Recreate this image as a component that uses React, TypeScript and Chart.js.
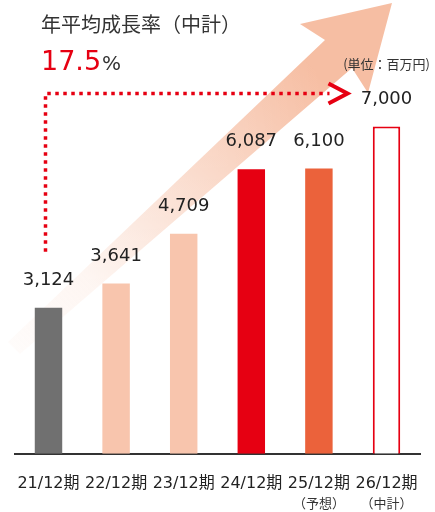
import React, { useEffect, useRef } from 'react';
import { Chart, registerables } from 'chart.js';

Chart.register(...registerables);

const categories = ['21/12期', '22/12期', '23/12期', '24/12期', '25/12期', '26/12期'];
const subLabels = ['', '', '', '', '（予想）', '（中計）'];
const values = [3124, 3641, 4709, 6087, 6100, 7000];
const barColors = ['#707070', '#F8C5AD', '#F8C5AD', '#E60012', '#EB623B', '#FFFFFF'];
const barBorderColors = ['#707070', '#F8C5AD', '#F8C5AD', '#E60012', '#EB623B', '#E60012'];
const barBorderWidths = [0, 0, 0, 0, 0, 2];
const titleText = '年平均成長率（中計）';
const cagrValue = '17.5';
const cagrUnit = '%';
const unitText = '(単位：百万円)';
const yMax = 9000;

const LATIN = "'DejaVu Sans', 'Noto Sans CJK JP', sans-serif";
const CJK = "'Noto Sans CJK JP', 'DejaVu Sans', sans-serif";
const RED = '#E60012';
const TEXT = '#222222';

const decorPlugin = {
  id: 'decor',
  beforeDatasetsDraw(chart: any) {
    const ctx = chart.ctx as CanvasRenderingContext2D;
    ctx.save();
    const g = ctx.createLinearGradient(12, 348, 392, 3);
    g.addColorStop(0, 'rgba(246,190,163,0.05)');
    g.addColorStop(0.2, 'rgba(246,190,163,0.14)');
    g.addColorStop(0.55, 'rgba(246,190,163,0.62)');
    g.addColorStop(0.8, 'rgba(246,190,163,1)');
    g.addColorStop(1, 'rgba(246,190,163,1)');
    ctx.fillStyle = g;
    ctx.beginPath();
    ctx.moveTo(20, 354);
    ctx.lineTo(352, 68);
    ctx.lineTo(368, 93);
    ctx.lineTo(392, 3);
    ctx.lineTo(300, 24);
    ctx.lineTo(325, 40);
    ctx.lineTo(8, 342);
    ctx.closePath();
    ctx.fill();
    ctx.restore();
  },
  afterDatasetsDraw(chart: any) {
    const ctx = chart.ctx as CanvasRenderingContext2D;
    const meta = chart.getDatasetMeta(0);
    ctx.save();
    ctx.fillStyle = TEXT;
    ctx.font = `18px ${LATIN}`;
    ctx.textAlign = 'center';
    ctx.textBaseline = 'alphabetic';
    meta.data.forEach((bar: any, i: number) => {
      ctx.fillText(values[i].toLocaleString('en-US'), bar.x, bar.y - 23);
    });
    // sub labels under axis
    ctx.font = `13px ${CJK}`;
    ctx.fillStyle = '#333';
    ctx.textBaseline = 'middle';
    const xs = chart.scales.x;
    subLabels.forEach((s, i) => {
      if (s) ctx.fillText(s, xs.getPixelForValue(i), 503);
    });
    ctx.restore();
  },
  afterDraw(chart: any) {
    const ctx = chart.ctx as CanvasRenderingContext2D;
    const xs = chart.scales.x;
    const ys = chart.scales.y;
    ctx.save();
    // title
    ctx.fillStyle = '#333';
    ctx.textAlign = 'left';
    ctx.textBaseline = 'middle';
    ctx.font = `20px ${CJK}`;
    ctx.fillText(titleText, 41, 24.5);
    // CAGR value
    ctx.textBaseline = 'alphabetic';
    ctx.font = `27px ${LATIN}`;
    ctx.fillStyle = RED;
    ctx.fillText(cagrValue, 41, 70);
    const w = ctx.measureText(cagrValue).width;
    ctx.font = `20px ${LATIN}`;
    ctx.fillStyle = '#333';
    ctx.fillText(cagrUnit, 41 + w + 1, 70);
    // unit
    ctx.textAlign = 'right';
    ctx.textBaseline = 'middle';
    ctx.font = `13px ${CJK}`;
    ctx.fillText(unitText, 430, 64);
    // dotted connector
    const x0 = xs.getPixelForValue(0) - 3;
    const yTop = ys.getPixelForValue(values[5]) - 33;
    const yBot = ys.getPixelForValue(values[0]) - 56;
    const tipX = xs.getPixelForValue(5) - 39;
    ctx.strokeStyle = RED;
    ctx.lineWidth = 3.5;
    ctx.setLineDash([3.5, 4.5]);
    ctx.beginPath();
    ctx.moveTo(x0, yBot);
    ctx.lineTo(x0, yTop);
    ctx.lineTo(tipX - 18, yTop);
    ctx.stroke();
    ctx.setLineDash([]);
    ctx.lineWidth = 4;
    ctx.lineJoin = 'miter';
    ctx.beginPath();
    ctx.moveTo(tipX - 19, yTop - 10);
    ctx.lineTo(tipX, yTop);
    ctx.lineTo(tipX - 19, yTop + 10);
    ctx.stroke();
    ctx.restore();
  },
};

export default function App() {
  const ref = useRef<HTMLCanvasElement | null>(null);
  useEffect(() => {
    if (!ref.current) return;
    const chart = new Chart(ref.current, {
      type: 'bar',
      data: {
        labels: categories,
        datasets: [
          {
            data: values,
            backgroundColor: barColors,
            borderColor: barBorderColors,
            borderWidth: barBorderWidths,
            borderSkipped: 'start',
            barPercentage: 0.406,
            categoryPercentage: 1,
          },
        ],
      },
      options: {
        responsive: true,
        maintainAspectRatio: false,
        animation: false,
        layout: { padding: { top: 33, left: 11, right: 9, bottom: 2 } },
        plugins: { legend: { display: false }, tooltip: { enabled: false } },
        scales: {
          x: {
            grid: { display: false, drawTicks: true, tickLength: 3 },
            border: { display: true, color: '#333', width: 2 },
            ticks: {
              color: TEXT,
              font: { size: 16, family: LATIN },
              padding: 17,
              maxRotation: 0,
              autoSkip: false,
            },
          },
          y: { display: false, min: 0, max: yMax },
        },
      },
      plugins: [decorPlugin],
    } as any);
    return () => chart.destroy();
  }, []);
  return (
    <div style={{ position: 'absolute', left: 0, top: 0, width: 435, height: 512 }}>
      <canvas ref={ref} />
    </div>
  );
}
